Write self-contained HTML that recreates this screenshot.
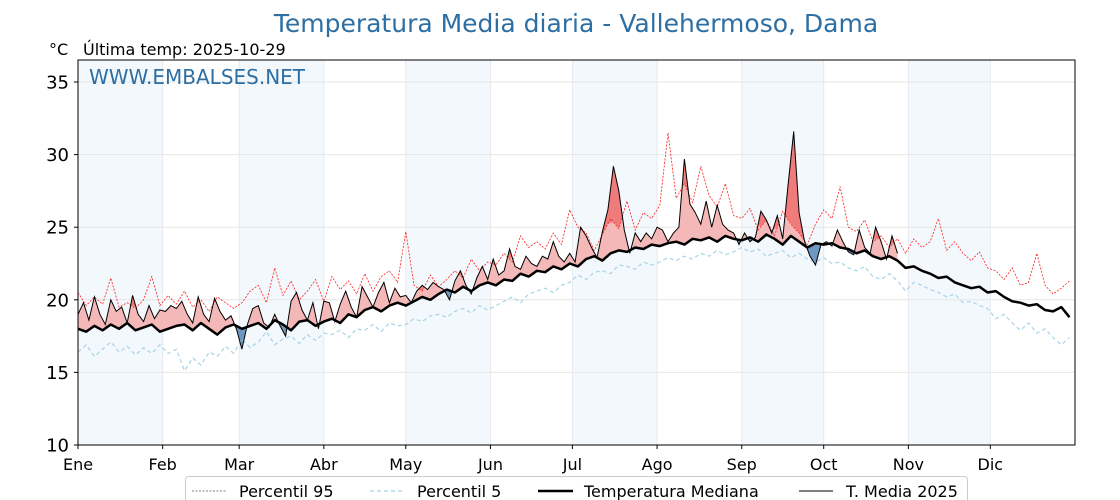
<!DOCTYPE html>
<html><head><meta charset="utf-8"><style>
body{margin:0;background:#fff;}
svg{display:block;font-family:"DejaVu Sans","Liberation Sans",sans-serif;}
</style></head><body>
<svg width="1120" height="500" viewBox="0 0 1120 500" id="chart">
<text x="576" y="32" text-anchor="middle" font-size="25" fill="#2e6fa3">Temperatura Media diaria - Vallehermoso, Dama</text>
<text x="49" y="55" font-size="16" fill="#000">°C</text>
<text x="83" y="55" font-size="16" fill="#000">Última temp: 2025-10-29</text>
<g id="bands"></g><g id="grid"></g><g id="fills"></g><g id="lines"></g>
<text x="89" y="84" font-size="20" fill="#2e6fa3">WWW.EMBALSES.NET</text>
<rect x="78" y="60" width="997" height="385" fill="none" stroke="#000" stroke-width="1"/>
<g id="axes"></g>
<g>
<rect x="185.5" y="476.5" width="782" height="30" rx="3" fill="#fff" stroke="#ccc"/>
<g><line x1="192" y1="491" x2="227" y2="491" stroke="#555" stroke-width="0.8" stroke-dasharray="2,1.5"/><text x="239" y="497" font-size="16">Percentil 95</text></g>
<g><line x1="370" y1="491" x2="405" y2="491" stroke="#a8d4e6" stroke-width="1.2" stroke-dasharray="4,3"/><text x="417" y="497" font-size="16">Percentil 5</text></g>
<g><line x1="538" y1="491" x2="573" y2="491" stroke="#000" stroke-width="2.5"/><text x="584" y="497" font-size="16">Temperatura Mediana</text></g>
<g><line x1="799" y1="491" x2="833" y2="491" stroke="#000" stroke-width="1"/><text x="846" y="497" font-size="16">T. Media 2025</text></g>
</g>
</svg>
<script>
const months=["Ene","Feb","Mar","Abr","May","Jun","Jul","Ago","Sep","Oct","Nov","Dic"];
const monthStartDays=[0,31,59,90,120,151,181,212,243,273,304,334];
const yTicks=[10,15,20,25,30,35];
const medianDays3=3;
const median=[18.0,17.8,18.2,17.9,18.3,18.0,18.4,17.9,18.1,18.3,17.8,
18.0,18.2,18.3,17.9,18.4,18.0,17.6,18.1,18.3,
18.0,18.2,18.4,18.0,18.6,18.3,17.9,18.5,18.6,18.2,18.5,
18.7,18.4,19.0,18.8,19.3,19.5,19.2,19.6,19.8,
19.6,19.9,20.2,20.0,20.4,20.7,20.5,20.9,20.6,21.0,21.2,
21.0,21.4,21.3,21.8,21.6,22.0,21.9,22.3,22.1,
22.5,22.3,22.8,23.0,22.7,23.2,23.4,23.3,23.6,23.5,23.8,
23.7,23.9,24.0,23.8,24.2,24.1,24.3,24.0,24.4,24.2,
24.1,24.3,24.0,24.5,24.2,23.8,24.4,24.0,23.6,23.9,
23.8,23.9,23.6,23.5,23.2,23.4,23.0,22.8,23.0,22.7,22.2,
22.3,22.0,21.8,21.5,21.6,21.2,21.0,20.8,20.9,
20.5,20.6,20.2,19.9,19.8,19.6,19.7,19.3,19.2,19.5,18.8];
const p95=[20.5,19.6,20.2,19.7,21.5,19.5,19.8,19.4,20.0,21.6,19.6,
20.3,19.7,20.6,19.5,20.0,19.2,20.2,19.8,19.4,
19.8,20.6,21.0,19.8,22.2,20.3,21.3,20.0,20.6,21.4,19.9,
21.6,20.7,21.3,20.4,21.8,20.6,21.6,22.0,21.2,
24.7,21.0,20.6,21.7,20.9,21.4,22.0,21.5,22.8,22.0,22.6,
22.4,23.2,22.6,24.4,23.6,24.0,23.5,24.6,23.8,
26.2,25.0,24.6,23.4,24.5,25.6,24.9,26.8,24.8,26.0,25.6,
26.5,31.5,27.0,28.0,26.7,29.2,27.2,26.4,28.0,25.8,
25.6,26.3,24.8,25.5,24.4,26.1,25.2,24.6,23.8,25.2,
26.2,25.6,27.8,25.0,24.7,25.5,24.0,24.4,23.6,24.2,23.2,
24.2,23.6,24.0,25.6,23.4,24.0,23.2,22.7,23.3,
22.2,22.0,21.4,22.2,21.0,21.2,23.2,21.0,20.4,20.8,21.3];
const p5=[16.4,16.9,16.1,16.6,17.1,16.4,16.8,16.2,16.7,16.3,16.9,
16.3,16.6,15.1,16.0,15.5,16.4,16.1,16.8,16.3,
17.3,16.7,17.1,17.8,16.9,17.3,17.5,17.0,17.6,17.2,17.7,
17.6,17.9,17.4,18.0,17.9,18.3,17.8,18.4,18.2,
18.3,18.7,18.5,18.9,19.0,18.8,19.2,19.4,19.1,19.6,19.3,
19.6,19.9,20.2,19.8,20.4,20.6,20.8,20.5,21.0,
21.2,21.7,21.4,21.9,22.0,21.8,22.4,22.3,22.1,22.6,22.4,
22.6,22.9,22.7,23.0,22.8,23.2,23.0,23.4,23.1,23.3,
23.6,23.3,23.5,23.0,23.2,23.4,22.9,23.2,22.8,22.6,
22.9,22.5,22.6,22.2,22.0,22.3,21.6,21.4,21.8,21.3,20.6,
21.2,21.0,20.7,20.5,20.2,20.4,19.8,19.9,19.6,
19.4,18.7,19.0,18.4,17.9,18.4,17.7,18.0,17.4,16.9,17.4];
const t2025Step=2;
const t2025=[19.0,19.8,18.6,20.2,19.0,18.3,20.0,19.2,19.5,18.4,20.3,19.0,18.5,19.6,18.7,19.3,
19.2,19.6,19.4,19.9,19.0,18.4,20.2,19.0,18.5,20.1,19.2,18.6,18.9,18.0,
16.6,18.3,19.4,19.6,18.4,18.1,19.0,18.2,17.5,19.9,20.5,19.3,18.6,19.8,18.0,19.9,
19.8,18.5,19.7,20.6,19.5,18.8,20.9,20.2,19.5,20.5,21.2,19.8,20.8,20.2,
20.3,19.8,20.6,21.0,20.7,21.2,20.9,20.7,20.0,21.3,22.0,21.0,20.4,21.5,22.3,21.4,
22.8,21.7,22.0,23.5,22.3,22.1,23.0,22.5,22.3,23.0,22.8,24.0,23.0,22.6,
23.2,22.6,25.0,24.4,23.6,22.9,24.7,26.2,29.2,27.5,24.8,23.2,24.6,24.0,24.6,24.2,
25.0,24.8,24.0,24.6,25.0,29.7,26.6,26.0,25.2,26.8,25.0,26.5,25.2,24.8,24.6,23.8,
24.6,24.0,24.3,26.1,25.5,24.6,25.8,24.2,28.0,31.6,26.0,24.0,23.0,22.4,23.8,
24.0,23.7,24.8,24.0,23.3,23.1,24.8,23.6,23.2,25.0,24.0,22.8,24.4,23.2];

const NS="http://www.w3.org/2000/svg";
const X0=78,X1=1075,Y0=445,Y1=60;
const xs=d=>X0+d*(X1-X0)/365;
const ys=v=>Y0-(v-10)*(Y0-82)/25;
function mk(tag,attrs,parent){const e=document.createElementNS(NS,tag);for(const k in attrs)e.setAttribute(k,attrs[k]);parent.appendChild(e);return e;}
function interp(arr,step,d){const i=d/step;const a=Math.floor(i);if(a>=arr.length-1)return arr[arr.length-1];const f=i-a;return arr[a]*(1-f)+arr[a+1]*f;}
const bands=document.getElementById('bands'),grid=document.getElementById('grid'),fills=document.getElementById('fills'),lines=document.getElementById('lines'),axes=document.getElementById('axes');
for(let m=0;m<12;m+=2){const x=xs(monthStartDays[m]),x2=xs(monthStartDays[m+1]);
const r=mk('rect',{x:x,y:Y1,width:x2-x,height:Y0-Y1,fill:'#f3f8fc'},bands);

}
yTicks.forEach(v=>{const l=mk('line',{x1:X0,x2:X1,y1:ys(v),y2:ys(v),stroke:'#e6e6e6','stroke-width':1},grid);


const t=mk('text',{x:69,y:ys(v)+6.5,'text-anchor':'end','font-size':18},axes);t.textContent=v;


mk('line',{x1:X0-4,x2:X0,y1:ys(v),y2:ys(v),stroke:'#000'},axes);});
months.forEach((m,i)=>{const x=xs(monthStartDays[i]);
const l=mk('line',{x1:x,x2:x,y1:Y1,y2:Y0,stroke:'#e6eaee','stroke-width':1},grid);


mk('line',{x1:x,x2:x,y1:Y0,y2:Y0+4,stroke:'#000'},axes);
const t=mk('text',{x:x,y:470,'text-anchor':'middle','font-size':16},axes);t.textContent=m;

});
const tDays=t2025.map((v,i)=>i*t2025Step);
const lastDay=tDays[tDays.length-1];
function pathOf(arr,step){return arr.map((v,i)=>(i?'L':'M')+xs(i*step).toFixed(1)+','+ys(v).toFixed(1)).join('');}
const tPts=tDays.map((d,i)=>[xs(d),ys(t2025[i])]);
const mPts=tDays.map(d=>[xs(d),ys(interp(median,medianDays3,d))]);
const pPts=tDays.map(d=>[xs(d),ys(interp(p95,medianDays3,d))]);
const ptsStr=p=>p.map(q=>q[0].toFixed(1)+','+q[1].toFixed(1)).join(' ');
const defs=mk('defs',{},fills);
const above=mk('clipPath',{id:'aboveM'},defs);
mk('polygon',{points:ptsStr(mPts)+' '+xs(lastDay)+','+Y1+' '+X0+','+Y1},above);
const below=mk('clipPath',{id:'belowM'},defs);
mk('polygon',{points:ptsStr(mPts)+' '+xs(lastDay)+','+Y0+' '+X0+','+Y0},below);
const aboveP=mk('clipPath',{id:'aboveP'},defs);
mk('polygon',{points:ptsStr(pPts)+' '+xs(lastDay)+','+Y1+' '+X0+','+Y1},aboveP);
const band=ptsStr(tPts)+' '+ptsStr(mPts.slice().reverse());
const fr=mk('polygon',{points:band,fill:'#f4b8b8','clip-path':'url(#aboveM)'},fills);


const fb=mk('polygon',{points:band,fill:'#6f98c0','clip-path':'url(#belowM)'},fills);


const fp=mk('polygon',{points:ptsStr(tPts)+' '+ptsStr(pPts.slice().reverse()),fill:'#ef7b7b','clip-path':'url(#aboveP)'},fills);


const l95=mk('path',{d:pathOf(p95,medianDays3),fill:'none',stroke:'#ff2020','stroke-width':0.8,'stroke-dasharray':'2,1.5'},lines);


const l5=mk('path',{d:pathOf(p5,medianDays3),fill:'none',stroke:'#a8d4e6','stroke-width':1.2,'stroke-dasharray':'4,3'},lines);


const lm=mk('path',{d:pathOf(median,medianDays3),fill:'none',stroke:'#000','stroke-width':2.5,'stroke-linejoin':'round'},lines);


const lt=mk('path',{d:pathOf(t2025,t2025Step),fill:'none',stroke:'#000','stroke-width':1},lines);


</script>
</body></html>
